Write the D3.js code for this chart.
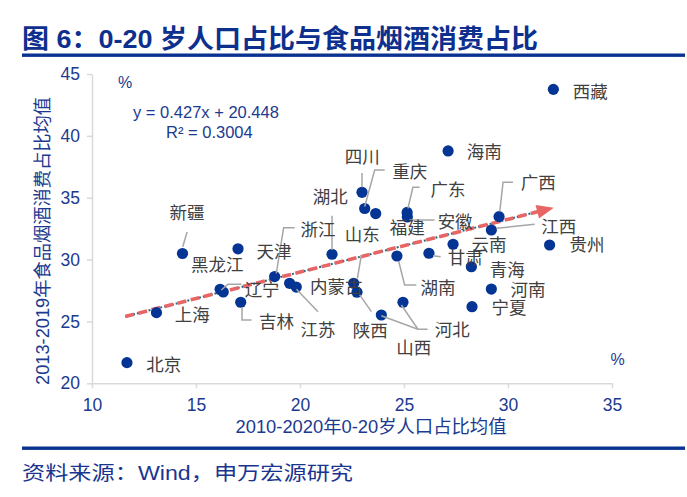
<!DOCTYPE html>
<html><head><meta charset="utf-8">
<script src="https://cdn.jsdelivr.net/npm/d3@7"></script>
<style>body{margin:0;background:#fff} svg{display:block}</style>
</head><body>
<svg id="chart" width="687" height="497"></svg>
<script>
// ---------------- data ----------------
const provinces = ["西藏","海南","四川","重庆","福建","广东","安徽","广西","江西","云南","贵州","甘肃","湖南","青海","河南","宁夏","河北","山西","山东","陕西","内蒙古","江苏","浙江","湖北","新疆","天津","辽宁","黑龙江","吉林","上海","北京"];
const youthShare = [32.18,27.12,22.98,23.11,23.64,25.15,25.16,29.57,29.20,27.36,32.00,26.20,24.66,28.24,29.20,28.27,24.95,23.91,22.58,22.74,19.50,19.82,18.78,21.54,14.35,17.02,16.16,16.31,17.15,13.10,11.68];
const foodShare  = [43.76,38.78,35.44,34.13,33.72,33.81,33.44,33.47,32.39,31.24,31.18,30.51,30.29,29.42,27.62,26.19,26.55,25.52,28.08,27.36,28.08,27.78,28.63,30.43,30.49,30.87,27.60,27.38,26.55,25.71,21.67];
const xTicks = [10,15,20,25,30,35];
const yTicks = [20,25,30,35,40,45];
const trendSlope = 0.427, trendIntercept = 20.448;
const trendRange = [11.6, 32.2];
const trendEquation = "y = 0.427x + 20.448";
const trendR2 = "R² = 0.3004";
const titleText = "图 6：0-20 岁人口占比与食品烟酒消费占比";
const xTitle = "2010-2020年0-20岁人口占比均值";
const yTitle = "2013-2019年食品烟酒消费占比均值";
const sourceText = "资料来源：Wind，申万宏源研究";

// ---------------- label layout (pixel offsets from each point) ----------------
const labelLayout = {
  "西藏":{dx:36.8,dy:2.7}, "海南":{dx:36.2,dy:1},
  "四川":{dx:0.2,dy:-35.6,leader:[[0,-19.3],[0,-5]]},
  "重庆":{dx:45,dy:-36.8,leader:[[20,-38.5],[10,-38.5],[0,-2]]},
  "福建":{dx:31.5,dy:14.5},
  "广东":{dx:40.8,dy:-22.5,leader:[[12.5,-25.2],[5.8,-25.2],[0.8,-4]]},
  "安徽":{dx:47.8,dy:4.7,leader:[[27.3,3],[2,3]]},
  "广西":{dx:39.2,dy:-33.4,leader:[[14,-34.4],[4,-34.4],[0.7,-5]]},
  "江西":{dx:67.5,dy:-3.3,leader:[[43.3,-5.7],[5,-1.7]]},
  "云南":{dx:35.9,dy:0.7}, "贵州":{dx:37.5,dy:0},
  "甘肃":{dx:36.2,dy:5,leader:[[4,2.5],[11.7,3.4]]},
  "湖南":{dx:41,dy:32.3,leader:[[1.7,5],[7.7,29],[19.4,29]]},
  "青海":{dx:35.8,dy:3.3}, "河南":{dx:36.6,dy:1}, "宁夏":{dx:36.9,dy:1.6},
  "河北":{dx:49.2,dy:27.7,leader:[[-1.6,2.7],[15,27],[24.7,27]]},
  "山西":{dx:32.5,dy:33.3,leader:[[0,0.7],[36.6,14.3]]},
  "山东":{dx:8.5,dy:-48.3,leader:[[7.7,-28.3],[3.7,-5]]},
  "陕西":{dx:13.2,dy:38.4,leader:[[2.7,2.7],[14.4,19.4]]},
  "内蒙古":{dx:46.7,dy:3.4},
  "江苏":{dx:21.8,dy:43,leader:[[21.8,24.7],[0.2,2.3]]},
  "浙江":{dx:43.3,dy:-46.5,leader:[[20,-48.8],[9,-48.8],[1.7,-3.2]]},
  "湖北":{dx:-1.8,dy:-57.6,leader:[[0,-38.6],[0,-4.3]]},
  "新疆":{dx:4.5,dy:-40.2,leader:[[4.6,-21.5],[0.3,-6.8]]},
  "天津":{dx:35.9,dy:2.9},
  "辽宁":{dx:42,dy:0.7,leader:[[21.2,-5],[7.8,-5],[1.2,0.7]]},
  "黑龙江":{dx:-6,dy:-27},
  "吉林":{dx:35.7,dy:19.4,leader:[[1.3,4.7],[1.3,17.7],[10.7,17.7]]},
  "上海":{dx:35.8,dy:2.3}, "北京":{dx:36.9,dy:2.3}
};

const points = provinces.map((p,i)=>({name:p,x:youthShare[i],y:foodShare[i]}));

// ---------------- styles ----------------
const FONT = "'Liberation Sans', Arial, 'Noto Sans CJK SC', sans-serif";
const BLUE = "#043494";
const TEXT_BLUE = "#1b3a90";
const svg = d3.select("#chart").style("font-family", FONT);

const x = d3.scaleLinear().domain([10,35]).range([92,612]);
const y = d3.scaleLinear().domain([20,45]).range([383.3,74]);

// title and rules
svg.append("text").attr("x",22).attr("y",47.5)
  .attr("font-size",26).attr("font-weight","bold").attr("fill","#0d2f8d")
  .attr("textLength",516).attr("lengthAdjust","spacingAndGlyphs")
  .text(titleText);
svg.append("rect").attr("x",22).attr("y",53.5).attr("width",663).attr("height",3.4).attr("fill","#0a3391");
svg.append("rect").attr("x",22).attr("y",446.5).attr("width",663).attr("height",3.4).attr("fill","#0a3391");
svg.append("text").attr("x",22).attr("y",480)
  .attr("font-size",19.5).attr("fill","#1a3590")
  .attr("textLength",331).attr("lengthAdjust","spacingAndGlyphs")
  .text(sourceText);

// axes
const gx = svg.append("g").attr("transform",`translate(0,${y(20)})`)
  .call(d3.axisBottom(x).tickValues(xTicks).tickSize(5).tickSizeOuter(0).tickPadding(6));
const gy = svg.append("g").attr("transform",`translate(${x(10)},0)`)
  .call(d3.axisLeft(y).tickValues(yTicks).tickSize(5).tickSizeOuter(0).tickPadding(7));
[gx,gy].forEach(g=>{
  g.select(".domain").attr("stroke","#d9d9d9").attr("stroke-width",1.5);
  g.selectAll(".tick line").attr("stroke","#d9d9d9").attr("stroke-width",1.5);
  g.selectAll(".tick text").attr("fill",TEXT_BLUE).attr("font-size",17.5).attr("font-family",FONT);
});
gx.selectAll(".tick text").attr("dy","0.95em");

// axis titles
svg.append("text").attr("x",371).attr("y",432.5).attr("text-anchor","middle")
  .attr("font-size",18).attr("fill",TEXT_BLUE)
  .attr("textLength",271).attr("lengthAdjust","spacingAndGlyphs").text(xTitle);
svg.append("text").attr("transform","translate(49,241) rotate(-90)").attr("text-anchor","middle")
  .attr("font-size",18).attr("fill",TEXT_BLUE)
  .attr("textLength",288).attr("lengthAdjust","spacingAndGlyphs").text(yTitle);

// unit marks
svg.append("text").attr("x",125).attr("y",82).attr("text-anchor","middle").attr("dominant-baseline","central")
  .attr("font-size",16).attr("fill",TEXT_BLUE).text("%");
svg.append("text").attr("x",617.5).attr("y",359.5).attr("text-anchor","middle").attr("dominant-baseline","central")
  .attr("font-size",16).attr("fill",TEXT_BLUE).text("%");

// regression text
svg.append("text").attr("x",133).attr("y",112).attr("dominant-baseline","central")
  .attr("font-size",16.5).attr("fill",TEXT_BLUE).text(trendEquation);
svg.append("text").attr("x",166).attr("y",132).attr("dominant-baseline","central")
  .attr("font-size",16.5).attr("fill",TEXT_BLUE).text(trendR2);

// trend line
const f = v => trendSlope*v + trendIntercept;
const p0 = [x(trendRange[0]), y(f(trendRange[0]))];
const p1 = [x(trendRange[1]), y(f(trendRange[1]))];
const ang = Math.atan2(p1[1]-p0[1], p1[0]-p0[0]);
const headLen = 17, headW = 7;
const pb = [p1[0]-headLen*Math.cos(ang), p1[1]-headLen*Math.sin(ang)];
const tl = svg.append("g");
tl.append("line").attr("x1",p0[0]).attr("y1",p0[1]).attr("x2",pb[0]).attr("y2",pb[1])
  .attr("stroke","#1f6a80").attr("stroke-width",2).attr("stroke-dasharray","2,2");
tl.append("line").attr("x1",p0[0]).attr("y1",p0[1]).attr("x2",pb[0]+2*Math.cos(ang)).attr("y2",pb[1]+2*Math.sin(ang))
  .attr("stroke","#e86565").attr("stroke-width",3.6).attr("stroke-dasharray","9,4.5");
const nx = -Math.sin(ang), ny = Math.cos(ang);
tl.append("path").attr("fill","#e86565")
  .attr("d",`M${p1[0]},${p1[1]}L${pb[0]+headW*nx},${pb[1]+headW*ny}L${pb[0]-headW*nx},${pb[1]-headW*ny}Z`);

// points
svg.append("g").selectAll("circle").data(points).join("circle")
  .attr("cx",d=>x(d.x)).attr("cy",d=>y(d.y)).attr("r",5.6).attr("fill",BLUE);

// leaders
const line = d3.line();
svg.append("g").selectAll("path").data(points.filter(d=>labelLayout[d.name].leader)).join("path")
  .attr("d",d=>line(labelLayout[d.name].leader.map(q=>[x(d.x)+q[0], y(d.y)+q[1]])))
  .attr("fill","none").attr("stroke","#a6a6a6").attr("stroke-width",1.5);

// labels
svg.append("g").selectAll("text").data(points).join("text")
  .attr("x",d=>x(d.x)+labelLayout[d.name].dx).attr("y",d=>y(d.y)+labelLayout[d.name].dy)
  .attr("text-anchor","middle").attr("dominant-baseline","central")
  .attr("font-size",17.5).attr("fill","#404040").text(d=>d.name);
</script>
</body></html>
